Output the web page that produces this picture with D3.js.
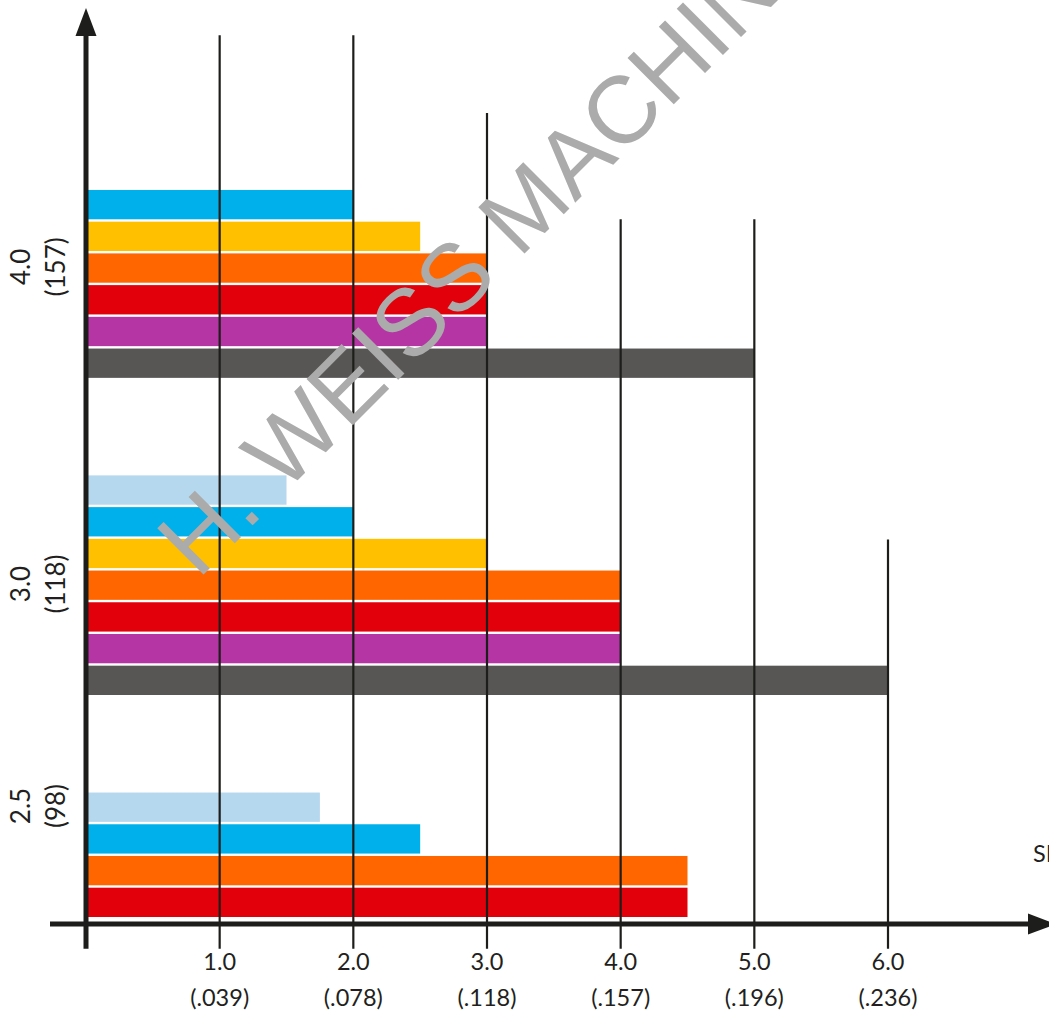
<!DOCTYPE html>
<html>
<head>
<meta charset="utf-8">
<script src="https://cdn.jsdelivr.net/npm/d3@7"></script>
<style>
body { margin:0; background:#fff; overflow:hidden; }
.ticklabel { font-family: Lato, "Open Sans", sans-serif; font-size:23.5px; fill:#231f20; }
.catlabel { font-family: Lato, "Open Sans", sans-serif; font-size:26px; fill:#231f20; }
.grid { stroke:#1d1d1b; stroke-width:2.2; }
.axis { stroke:#1d1d1b; stroke-width:5; }
.watermark { font-family: "Liberation Sans", Arial, sans-serif; font-size:95px; fill:#ababab; }
</style>
</head>
<body>
<script>
// bar series, top to bottom inside a group
var series = ["light blue", "blue", "yellow", "orange", "red", "purple", "grey"];
var colors = ["#b5d8ef", "#00b0ea", "#ffc000", "#ff6600", "#e2000a", "#b435a3", "#575655"];

// categories from the x axis upward
var catMain = ["2.5", "3.0", "4.0"];
var catSub = ["(98)", "(118)", "(157)"];

// values per category, null = no bar
var vals25 = [1.75, 2.5, null, 4.5, 4.5, null, null];
var vals30 = [1.5, 2.0, 3.0, 4.0, 4.0, 4.0, 6.0];
var vals40 = [null, 2.0, 2.5, 3.0, 3.0, 3.0, 5.0];
var values = [vals25, vals30, vals40];

// x ticks
var tickVals = [1, 2, 3, 4, 5, 6];
var tickMain = ["1.0", "2.0", "3.0", "4.0", "5.0", "6.0"];
var tickSub = ["(.039)", "(.078)", "(.118)", "(.157)", "(.196)", "(.236)"];
// how high each grid line reaches (in bar slots)
var gridTop = [27.8, 27.8, 25.35, 22, 22, 11.9];

var W = 1049, H = 1012;
var gapSlots = 3;   // empty slots between two groups
var barGap = 2.4;

var svg = d3.select("body").append("svg")
	.attr("width", W).attr("height", H);

var x = d3.scaleLinear().domain([0, 6]).range([86, 888]);
// y in bar slots counted up from the x axis
var y = d3.scaleLinear().domain([0, 28]).range([917, 29]);

// lay the groups out bottom up, bars packed without holes
var bars = [];
var labels = [];
var slot = 0;
for (var c = 0; c < values.length; c++) {
	var base = slot;
	// bottom bar is the last series
	for (var s = series.length - 1; s >= 0; s--) {
		if (values[c][s] != null) {
			bars.push({value: values[c][s], color: colors[s], slot: slot});
			slot++;
		}
	}
	labels.push({main: catMain[c], sub: catSub[c], slot: base + 3.5});
	slot += gapSlots;
}

// bars
svg.append("g").selectAll("rect")
	.data(bars)
	.enter().append("rect")
	.attr("x", x(0))
	.attr("y", function(d) { return y(d.slot + 1) + barGap; })
	.attr("width", function(d) { return x(d.value) - x(0); })
	.attr("height", function(d) { return y(d.slot) - y(d.slot + 1) - barGap; })
	.style("fill", function(d) { return d.color; });

// grid lines with their labels
var ticks = svg.append("g").selectAll("g")
	.data(tickVals)
	.enter().append("g")
	.attr("transform", function(d) { return "translate(" + x(d) + ",0)"; });
ticks.append("line")
	.attr("class", "grid")
	.attr("y1", function(d, i) { return y(gridTop[i]); })
	.attr("y2", y(-1));
ticks.append("text")
	.attr("class", "ticklabel")
	.attr("y", 970)
	.attr("text-anchor", "middle")
	.text(function(d, i) { return tickMain[i]; });
ticks.append("text")
	.attr("class", "ticklabel")
	.attr("y", 1006)
	.attr("text-anchor", "middle")
	.text(function(d, i) { return tickSub[i]; });

// category labels, turned
var cl = svg.append("g").selectAll("g")
	.data(labels)
	.enter().append("g")
	.attr("transform", function(d) { return "translate(0," + y(d.slot) + ") rotate(-90)"; });
cl.append("text")
	.attr("class", "catlabel")
	.attr("y", 30)
	.attr("text-anchor", "middle")
	.text(function(d) { return d.main; });
cl.append("text")
	.attr("class", "catlabel")
	.attr("y", 65)
	.attr("text-anchor", "middle")
	.text(function(d) { return d.sub; });

// axes with arrow heads
svg.append("line").attr("class", "axis")
	.attr("x1", x(0)).attr("x2", x(0))
	.attr("y1", 34).attr("y2", y(-1));
svg.append("path")
	.attr("d", "M" + x(0) + ",8L" + (x(0) + 10.5) + ",36L" + (x(0) - 10.5) + ",36Z")
	.style("fill", "#1d1d1b");
svg.append("line").attr("class", "axis")
	.attr("x1", 50).attr("x2", 1030)
	.attr("y1", y(0) + 7).attr("y2", y(0) + 7);
svg.append("path")
	.attr("d", "M1056," + (y(0) + 7) + "L1028," + (y(0) - 3.5) + "L1028," + (y(0) + 17.5) + "Z")
	.style("fill", "#1d1d1b");

// axis title, runs off the page
svg.append("text")
	.attr("class", "ticklabel")
	.attr("x", 1033).attr("y", 862)
	.text("SIZE");

// watermark on top
svg.append("text")
	.attr("class", "watermark")
	.attr("transform", "translate(198,580) rotate(-45)")
	.text("H. WEISS MACHINERY");
</script>
</body>
</html>
